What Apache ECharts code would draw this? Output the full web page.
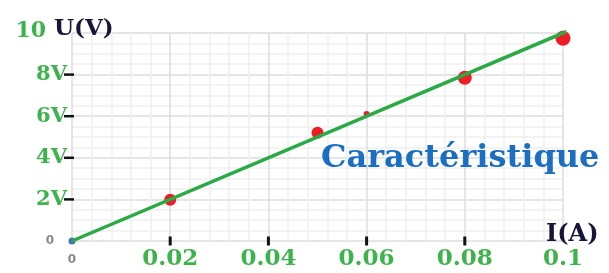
<!DOCTYPE html>
<html>
<head>
<meta charset="utf-8">
<script src="https://cdn.jsdelivr.net/npm/echarts@6/dist/echarts.min.js"></script>
<style>html,body{margin:0;padding:0;background:#fff}#c{width:609px;height:273px}</style>
</head>
<body>
<div id="c"></div>
<script>
// ---- data ----
var measuredPoints = [[0.02, 1.98], [0.05, 5.2], [0.06, 6.1], [0.08, 7.85], [0.1, 9.75]];
var pointSizes = [12, 12, 6, 14, 15];
var fitLine = [[0, 0], [0.109, 10.9]];
var originPoint = [[0, 0]];
var xTickLabels = ['0', '0.02', '0.04', '0.06', '0.08', '0.1'];
var yTickLabels = ['0', '2V', '4V', '6V', '8V', '10'];
var xTickMarks = [0.02, 0.04, 0.06, 0.08];
var yTickMarks = [2, 4, 6, 8];
var xName = 'I(A)';
var yName = 'U(V)';
var chartTitle = 'Caractéristique';

var green = '#3cb44b';
var serif = 'DejaVu Serif';
var chart = echarts.init(document.getElementById('c'));
chart.setOption({
  animation: false,
  backgroundColor: '#fff',
  grid: {left: 72, right: 46, top: 33, bottom: 32},
  xAxis: {
    type: 'value', min: 0, max: 0.1, interval: 0.02,
    axisLine: {show: false}, axisTick: {show: false},
    splitLine: {show: true, lineStyle: {color: '#dddddd', width: 1.5}},
    minorTick: {show: false, splitNumber: 5},
    minorSplitLine: {show: true, lineStyle: {color: '#efefef', width: 1.5}},
    axisLabel: {
      margin: 7,
      formatter: function (v, i) { return i === 0 ? '{z|' + xTickLabels[0] + '}' : xTickLabels[i]; },
      color: green, fontFamily: serif, fontWeight: 'bold', fontSize: 23,
      rich: {z: {color: '#888', fontFamily: 'DejaVu Sans', fontSize: 12, padding: [6, 0, 0, 0]}}
    }
  },
  yAxis: {
    type: 'value', min: 0, max: 10, interval: 2,
    axisLine: {show: false}, axisTick: {show: false},
    splitLine: {show: true, lineStyle: {color: '#dddddd', width: 1.5}},
    minorTick: {show: false, splitNumber: 4},
    minorSplitLine: {show: true, lineStyle: {color: '#efefef', width: 1.5}},
    axisLabel: {
      margin: 5,
      formatter: function (v, i) {
        if (i === 0) return '{z|' + yTickLabels[0] + '}';
        if (i === 5) return '{t|' + yTickLabels[5] + '}';
        return yTickLabels[i];
      },
      color: green, fontFamily: serif, fontWeight: 'bold', fontSize: 21,
      rich: {
        z: {color: '#888', fontFamily: 'DejaVu Sans', fontSize: 12, padding: [0, 13, 0, 0]},
        t: {color: green, fontFamily: serif, fontWeight: 'bold', fontSize: 22, padding: [0, 21, 4, 0]}
      }
    }
  },
  graphic: [
    {type: 'text', z: 100, left: 54, top: 18, style: {text: yName, fontFamily: serif, fontWeight: 'bold', fontSize: 23, fill: '#16163a'}},
    {type: 'text', z: 100, left: 546, top: 223, style: {text: xName, fontFamily: serif, fontWeight: 'bold', fontSize: 24, fill: '#16163a'}},
    {type: 'text', z: 100, left: 321, top: 143, style: {text: chartTitle, fontFamily: serif, fontWeight: 'bold', fontSize: 32, fill: '#1b6ec2'}}
  ],
  series: [
    {type: 'scatter', data: xTickMarks.map(function (v) { return [v, 0]; }), symbol: 'rect', symbolSize: [3, 9], itemStyle: {color: '#111', opacity: 1}, silent: true, z: 3},
    {type: 'scatter', data: yTickMarks.map(function (v) { return [0, v]; }), symbol: 'rect', symbolSize: [10, 2.5], symbolOffset: [-3, 0], itemStyle: {color: '#111', opacity: 1}, silent: true, z: 3},
    {type: 'scatter', data: measuredPoints.map(function (p, i) { return {value: p, symbolSize: pointSizes[i]}; }), itemStyle: {color: '#ee1c25', opacity: 1}, z: 4},
    {type: 'scatter', data: originPoint, symbolSize: 7, itemStyle: {color: '#4472c4', opacity: 1}, z: 4},
    {type: 'line', data: fitLine, showSymbol: false, symbol: 'none', clip: false, lineStyle: {color: '#2aaa44', width: 3.5}, z: 5}
  ]
});
</script>
</body>
</html>
